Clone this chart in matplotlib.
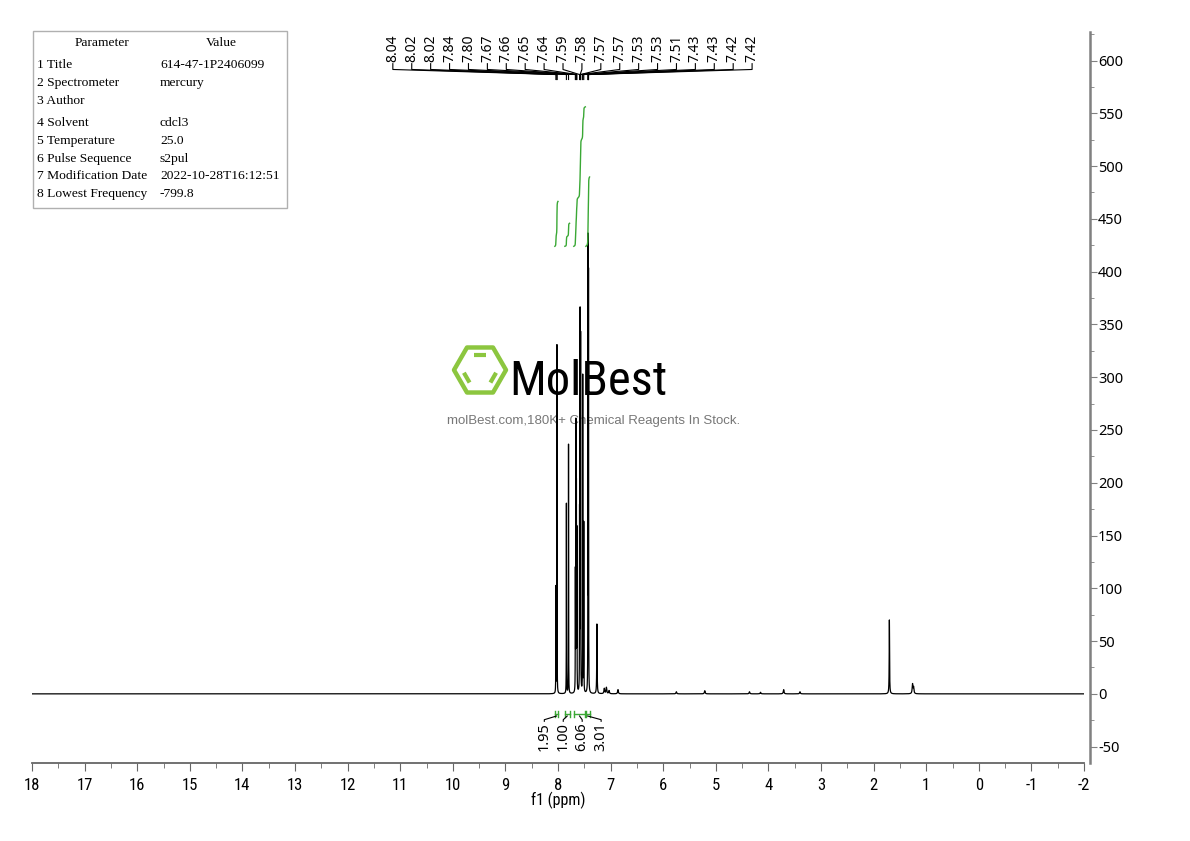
import numpy as np
import matplotlib
matplotlib.use('Agg')
import matplotlib.pyplot as plt
from matplotlib.patches import Polygon, Rectangle
from matplotlib.ticker import MultipleLocator

plt.rcParams['axes.unicode_minus'] = False

# ---------------- data ----------------
peak_labels = [8.04, 8.02, 8.02, 7.84, 7.80, 7.67, 7.66, 7.65, 7.64, 7.59,
               7.58, 7.57, 7.57, 7.53, 7.53, 7.51, 7.43, 7.43, 7.42, 7.42]
peak_heights = [100, 165, 165, 180, 236, 110, 250, 190, 150, 165,
                350, 165, 165, 150, 150, 160, 212, 212, 195, 195]

minor_ppm = [7.26, 7.12, 7.08, 7.03, 6.86, 5.75, 5.21, 4.36, 4.15, 3.71, 3.40, 1.70, 1.26, 1.24]
minor_heights = [66, 5, 6, 3, 4, 2, 3, 2, 1.5, 4, 2, 70, 9, 6]

int_ranges = [(8.06, 8.00), (7.87, 7.78), (7.70, 7.48), (7.47, 7.40)]
int_values = [1.95, 1.00, 6.06, 3.01]

param_names = ["1 Title", "2 Spectrometer", "3 Author", "4 Solvent", "5 Temperature",
               "6 Pulse Sequence", "7 Modification Date", "8 Lowest Frequency"]
param_values = ["614-47-1P2406099", "mercury", "", "cdcl3", "25.0",
                "s2pul", "2022-10-28T16:12:51", "-799.8"]

x_ticks = list(range(18, -3, -1))
y_ticks = list(range(-50, 601, 50))

# ---------------- spectrum ----------------
ppm = np.linspace(18, -2, 200001)
spec = np.zeros_like(ppm)
for p, h in zip(peak_labels, peak_heights):
    w = 0.0018
    spec += h * w**2 / ((ppm - p)**2 + w**2)
for p, h in zip(minor_ppm, minor_heights):
    w = 0.004 if h > 20 else 0.008
    spec += h * w**2 / ((ppm - p)**2 + w**2)

narrow = ['Roboto Condensed', 'Noto Sans', 'DejaVu Sans']

fig = plt.figure(figsize=(11.9, 8.41), dpi=100)

# overlay (watermark + parameter table) in pixel coordinates
ov = fig.add_axes([0, 0, 1, 1], zorder=0)
ov.set_xlim(0, 1190)
ov.set_ylim(841, 0)
ov.axis('off')

ax = fig.add_axes([32/1190, 1 - 763/841, (1084 - 32)/1190, (763 - 32)/841], zorder=1)
ax.patch.set_alpha(0)

ax.plot(ppm, spec, color='black', lw=0.9)
ax.set_xlim(18, -2)
ax.set_ylim(-65.5, 627)

# spines / ticks
for s in ['top', 'left']:
    ax.spines[s].set_visible(False)
ax.spines['right'].set_position(('outward', 4))
ax.spines['right'].set_color('#808080')
ax.spines['right'].set_linewidth(1.8)
ax.spines['bottom'].set_color('#666666')
ax.spines['bottom'].set_linewidth(1.3)
ax.yaxis.tick_right()
ax.set_yticks(y_ticks)
ax.yaxis.set_minor_locator(MultipleLocator(25))
ax.set_xticks(x_ticks)
ax.set_xticklabels([str(t) for t in x_ticks])
ax.xaxis.set_minor_locator(MultipleLocator(0.5))
ax.tick_params(axis='y', which='major', length=5, color='#808080', labelsize=10.5, pad=1)
ax.tick_params(axis='y', which='minor', length=3, color='#808080')
ax.tick_params(axis='x', which='major', length=6, color='#666666', labelsize=12, pad=5)
ax.tick_params(axis='x', which='minor', length=3.5, color='#666666')
for lab in ax.get_yticklabels():
    lab.set_family(['Noto Sans', 'DejaVu Sans'])
for lab in ax.get_xticklabels():
    lab.set_family(narrow)
    lab.set_fontstretch('condensed')
ax.set_xlabel('f1 (ppm)', fontsize=11.5, family=narrow, fontstretch='condensed', labelpad=-1)

# ---------------- integrals ----------------
green = '#3aa835'
unit = 21.8
base = 424
for (hi, lo), val in zip(int_ranges, int_values):
    m = (ppm <= hi) & (ppm >= lo)
    c = np.cumsum(spec[m])
    c = c / c[-1]
    ax.plot(ppm[m], base + c * val * unit, color=green, lw=1.0)

# integration labels under baseline
lab_center = 7.72
for i, ((hi, lo), val) in enumerate(zip(int_ranges, int_values)):
    lx = lab_center + (1.5 - i) * 0.36
    mid = (hi + lo) / 2
    ax.plot([hi, lo], [-19.5, -19.5], color=green, lw=1.0)
    ax.plot([hi, hi], [-16.5, -22], color=green, lw=1.0)
    ax.plot([lo, lo], [-16.5, -22], color=green, lw=1.0)
    ax.plot([mid, lx, lx], [-21, -24.5, -26], color='black', lw=0.8)
    ax.text(lx, -27, f"{val:.2f}", rotation=90, ha='center', va='top',
            fontsize=10.5, family=['Noto Sans', 'DejaVu Sans'])

# ---------------- peak labels ----------------
n = len(peak_labels)
left_ppm, right_ppm = 11.14, 4.31
for i, p in enumerate(peak_labels):
    lx = left_ppm + (right_ppm - left_ppm) * i / (n - 1)
    ax.plot([lx, lx, p, p], [597, 591.5, 586.7, 582], color='black', lw=0.8)
    ax.text(lx, 598.5, f"{p:.2f}", rotation=90, ha='center', va='bottom',
            fontsize=10, family=['Noto Sans', 'DejaVu Sans'])

# ---------------- watermark ----------------
cx, cy, r = 480, 370, 26
ang = np.deg2rad(np.arange(0, 360, 60))
hexv = np.c_[cx + r * np.cos(ang), cy + r * np.sin(ang)]
ov.add_patch(Polygon(hexv, closed=True, fill=False, ec='#8cc63f', lw=3.2, joinstyle='round'))
edges = [(4, 5), (0, 1), (2, 3)]  # top edge, lower-right, lower-left (y down)
for a, b in edges:
    pa, pb = hexv[a], hexv[b]
    ia = np.array([cx, cy]) + (pa - [cx, cy]) * 0.68
    ib = np.array([cx, cy]) + (pb - [cx, cy]) * 0.68
    mid = (ia + ib) / 2
    d = (ib - ia) * 0.32
    ov.plot([mid[0] - d[0], mid[0] + d[0]], [mid[1] - d[1], mid[1] + d[1]],
            color='#8cc63f', lw=3.0, solid_capstyle='butt')
ov.text(509, 395, 'MolBest', fontsize=35, family=narrow, fontstretch='extra-condensed',
        ha='left', va='baseline', color='black')
ov.text(594, 421, 'molBest.com,180K+ Chemical Reagents In Stock.', fontsize=9.5,
        family=['Liberation Sans', 'DejaVu Sans'], ha='center', va='center', color='#777777')

# ---------------- parameter table ----------------
ov.add_patch(Rectangle((33, 31), 254, 177, fill=False, ec='#b0b0b0', lw=1.0))
tfont = ['Liberation Serif', 'DejaVu Serif']
ov.text(102, 43, 'Parameter', ha='center', va='center', fontsize=9.7, family=tfont)
ov.text(221, 43, 'Value', ha='center', va='center', fontsize=9.7, family=tfont)
row_y = [65, 83, 101, 123, 141, 159, 176, 194]
for yy, nm, vv in zip(row_y, param_names, param_values):
    ov.text(37, yy, nm, ha='left', va='center', fontsize=9.7, family=tfont)
    ov.text(160, yy, vv, ha='left', va='center', fontsize=9.7, family=tfont)

fig.savefig('out.png', dpi=100)
